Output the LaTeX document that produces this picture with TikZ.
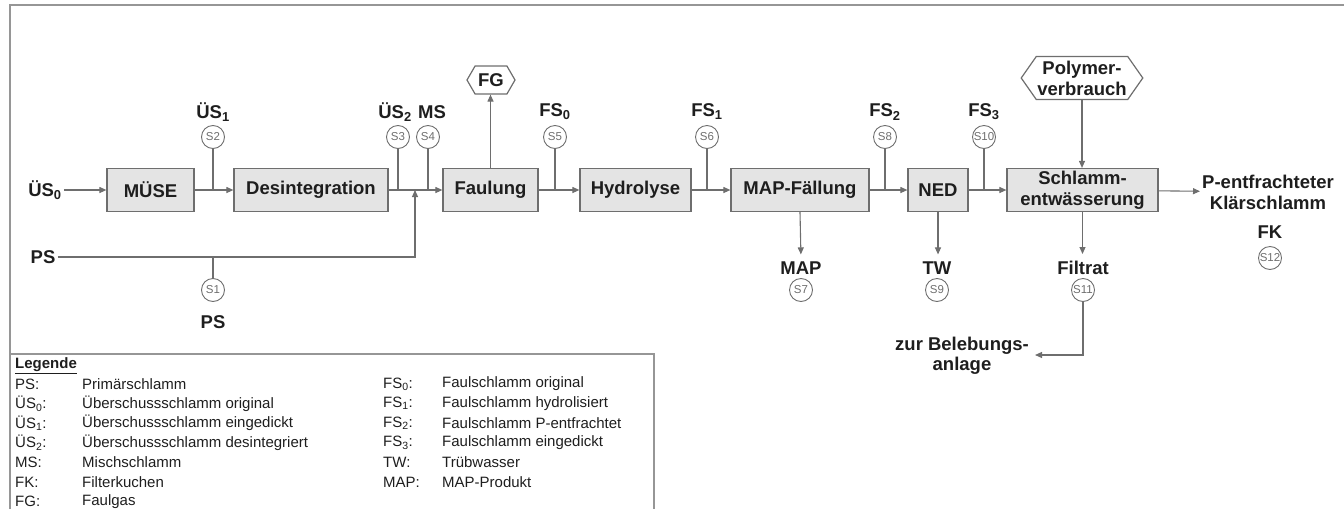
\documentclass[tikz,border=0pt]{standalone}
\usepackage{fontspec}
\setmainfont{Liberation Sans}
\usetikzlibrary{arrows.meta,positioning,shapes.symbols}
\definecolor{wire}{RGB}{110,110,110}
\definecolor{frame}{RGB}{150,150,150}
\definecolor{boxfill}{RGB}{228,228,228}
\definecolor{ink}{RGB}{30,30,30}
\newcommand\lblfont{\fontsize{18.5}{21}\selectfont\bfseries}
\newcommand\probefont{\fontsize{11.5}{12}\selectfont}
\newcommand\legfont{\fontsize{15}{17}\selectfont}

\begin{document}
\begin{tikzpicture}[x=1pt,y=-1pt,
    proc/.style={draw=wire,fill=boxfill,line width=1.2pt,minimum height=43pt,inner sep=0pt,font=\lblfont,text=ink,align=center},
    stream/.style={font=\lblfont,text=ink,inner sep=2pt,align=center},
    probe/.style={circle,draw=wire,line width=0.9pt,minimum size=23pt,inner sep=0pt,font=\probefont,text=wire},
    feed/.style={signal,signal to=east and west,draw=wire,line width=1.2pt,fill=white,font=\lblfont,text=ink,align=center,inner sep=1pt},
    flow/.style={draw=wire,line width=1.1pt,-{Triangle[length=7pt,width=6pt]}},
    tap/.style={draw=wire,line width=1.1pt},
    legtxt/.style={anchor=west,font=\legfont,text=ink,inner sep=0pt}]
  \useasboundingbox (0,0) rectangle (1344,509);
  % frame and legend box
  \draw[frame,line width=2.5pt] (10,509) -- (10,5) -- (1344,5);
  \draw[frame,line width=1.5pt] (10,354) -- (654,354) -- (654,509);

  % process boxes
  \node[proc,minimum width=87pt] (muse) at (150.5,190) {MÜSE};
  \node[proc,minimum width=154pt] (desint) at (311,190) {Desintegration};
  \node[proc,minimum width=95pt] (faul) at (490.5,190) {Faulung};
  \node[proc,minimum width=111pt] (hydro) at (635.5,190) {Hydrolyse};
  \node[proc,minimum width=138pt] (mapf) at (800,190) {MAP-Fällung};
  \node[proc,minimum width=60pt] (ned) at (938,190) {NED};
  \node[proc,minimum width=151pt] (entw) at (1082.5,190) {Schlamm-\\entwässerung};

  % feeds
  \node[feed,minimum width=48pt,minimum height=28pt,signal pointer angle=120] (fg) at (491,80) {FG};
  \node[feed,minimum width=119pt,minimum height=43pt,signal pointer angle=110] (poly) at (1082,78) {Polymer-\\verbrauch};

  % streams in and out
  \node[stream] (us0) at (45,190) {ÜS\textsubscript{0}};
  \node[stream] (ps) at (43,257) {PS};
  \coordinate (psin) at (415,190);
  \node[stream] (map) at (801,268) {MAP};
  \node[stream] (tw) at (937,268) {TW};
  \node[stream] (filt) at (1083,268) {Filtrat};
  \node[stream,font=\fontsize{18.5}{20.5}\selectfont\bfseries] (zur) at (962,356) {zur Belebungs-\\anlage};
  \node[stream] (out) at (1268,192) {P-entfrachteter\\Klärschlamm};
  \node[stream] (fk) at (1270,232) {FK};

  % sampling points
  \node[probe] (s1) at (213,290) {S1};
  \node[probe] (s2) at (213,137) {S2};
  \node[probe] (s3) at (398,137) {S3};
  \node[probe] (s4) at (428,137) {S4};
  \node[probe] (s5) at (555,137) {S5};
  \node[probe] (s6) at (707,137) {S6};
  \node[probe] (s7) at (801,290) {S7};
  \node[probe] (s8) at (885,137) {S8};
  \node[probe] (s9) at (937,290) {S9};
  \node[probe] (s10) at (984,137) {S10};
  \node[probe] (s11) at (1083,290) {S11};
  \node[probe] (s12) at (1270,258) {S12};

  % sampling labels
  \node[stream] (l1) at (213,322) {PS};
  \node[stream] (l2) at (213,112) {ÜS\textsubscript{1}};
  \node[stream] (l3) at (395,112) {ÜS\textsubscript{2}};
  \node[stream] (l4) at (432,112) {MS};
  \node[stream] (l5) at (555,112) {FS\textsubscript{0}};
  \node[stream] (l6) at (707,112) {FS\textsubscript{1}};
  \node[stream] (l8) at (885,112) {FS\textsubscript{2}};
  \node[stream] (l10) at (984,112) {FS\textsubscript{3}};

  % main flow
  \draw[flow] (us0) -- (muse);
  \draw[flow] (muse) -- (desint);
  \draw[flow] (desint) -- (faul);
  \draw[flow] (faul) -- (hydro);
  \draw[flow] (hydro) -- (mapf);
  \draw[flow] (mapf) -- (ned);
  \draw[flow] (ned) -- (entw);
  \draw[flow] (entw) -- (out);
  \draw[flow] (ps.east) -| (psin);
  \draw[flow] (faul.north) -- (faul.north |- fg.south);
  \draw[flow] (poly.south) -- (poly.south |- entw.north);
  \draw[flow,shorten >=5pt] (mapf.south) -- (map.north);
  \draw[flow,shorten >=5pt] (ned.south) -- (ned.south |- tw.north);
  \draw[flow,shorten >=5pt] (entw.south) -- (entw.south |- filt.north);
  \draw[flow] (s11.south) |- ([xshift=4pt,yshift=1pt]zur.east);

  % sampling taps
  \draw[tap] (s1.north) -- (s1 |- ps.east);
  \foreach \s in {s2,s3,s4,s5,s6,s8,s10}
    \draw[tap] (\s.south) -- (\s |- muse.east);

  % legend
  \node[legtxt,font=\legfont\bfseries] (leg) at (15,366) {\underline{Legende}};
  \foreach \k/\d [count=\i from 0] in {
      PS:/Primärschlamm,
      ÜS\textsubscript{0}:/Überschussschlamm original,
      ÜS\textsubscript{1}:/Überschussschlamm eingedickt,
      ÜS\textsubscript{2}:/Überschussschlamm desintegriert,
      MS:/Mischschlamm,
      FK:/Filterkuchen,
      FG:/Faulgas}
  {
    \node[legtxt] (lka\i) at (15,384+19.6*\i) {\k};
    \node[legtxt] (lda\i) at (82,384+19.6*\i) {\d};
  }
  \foreach \k/\d [count=\i from 0] in {
      FS\textsubscript{0}:/Faulschlamm original,
      FS\textsubscript{1}:/Faulschlamm hydrolisiert,
      FS\textsubscript{2}:/Faulschlamm P-entfrachtet,
      FS\textsubscript{3}:/Faulschlamm eingedickt,
      TW:/Trübwasser,
      MAP:/MAP-Produkt}
  {
    \node[legtxt] (lkb\i) at (383,384+19.6*\i) {\k};
    \node[legtxt] (ldb\i) at (442,384+19.6*\i) {\d};
  }
\end{tikzpicture}
\end{document}
